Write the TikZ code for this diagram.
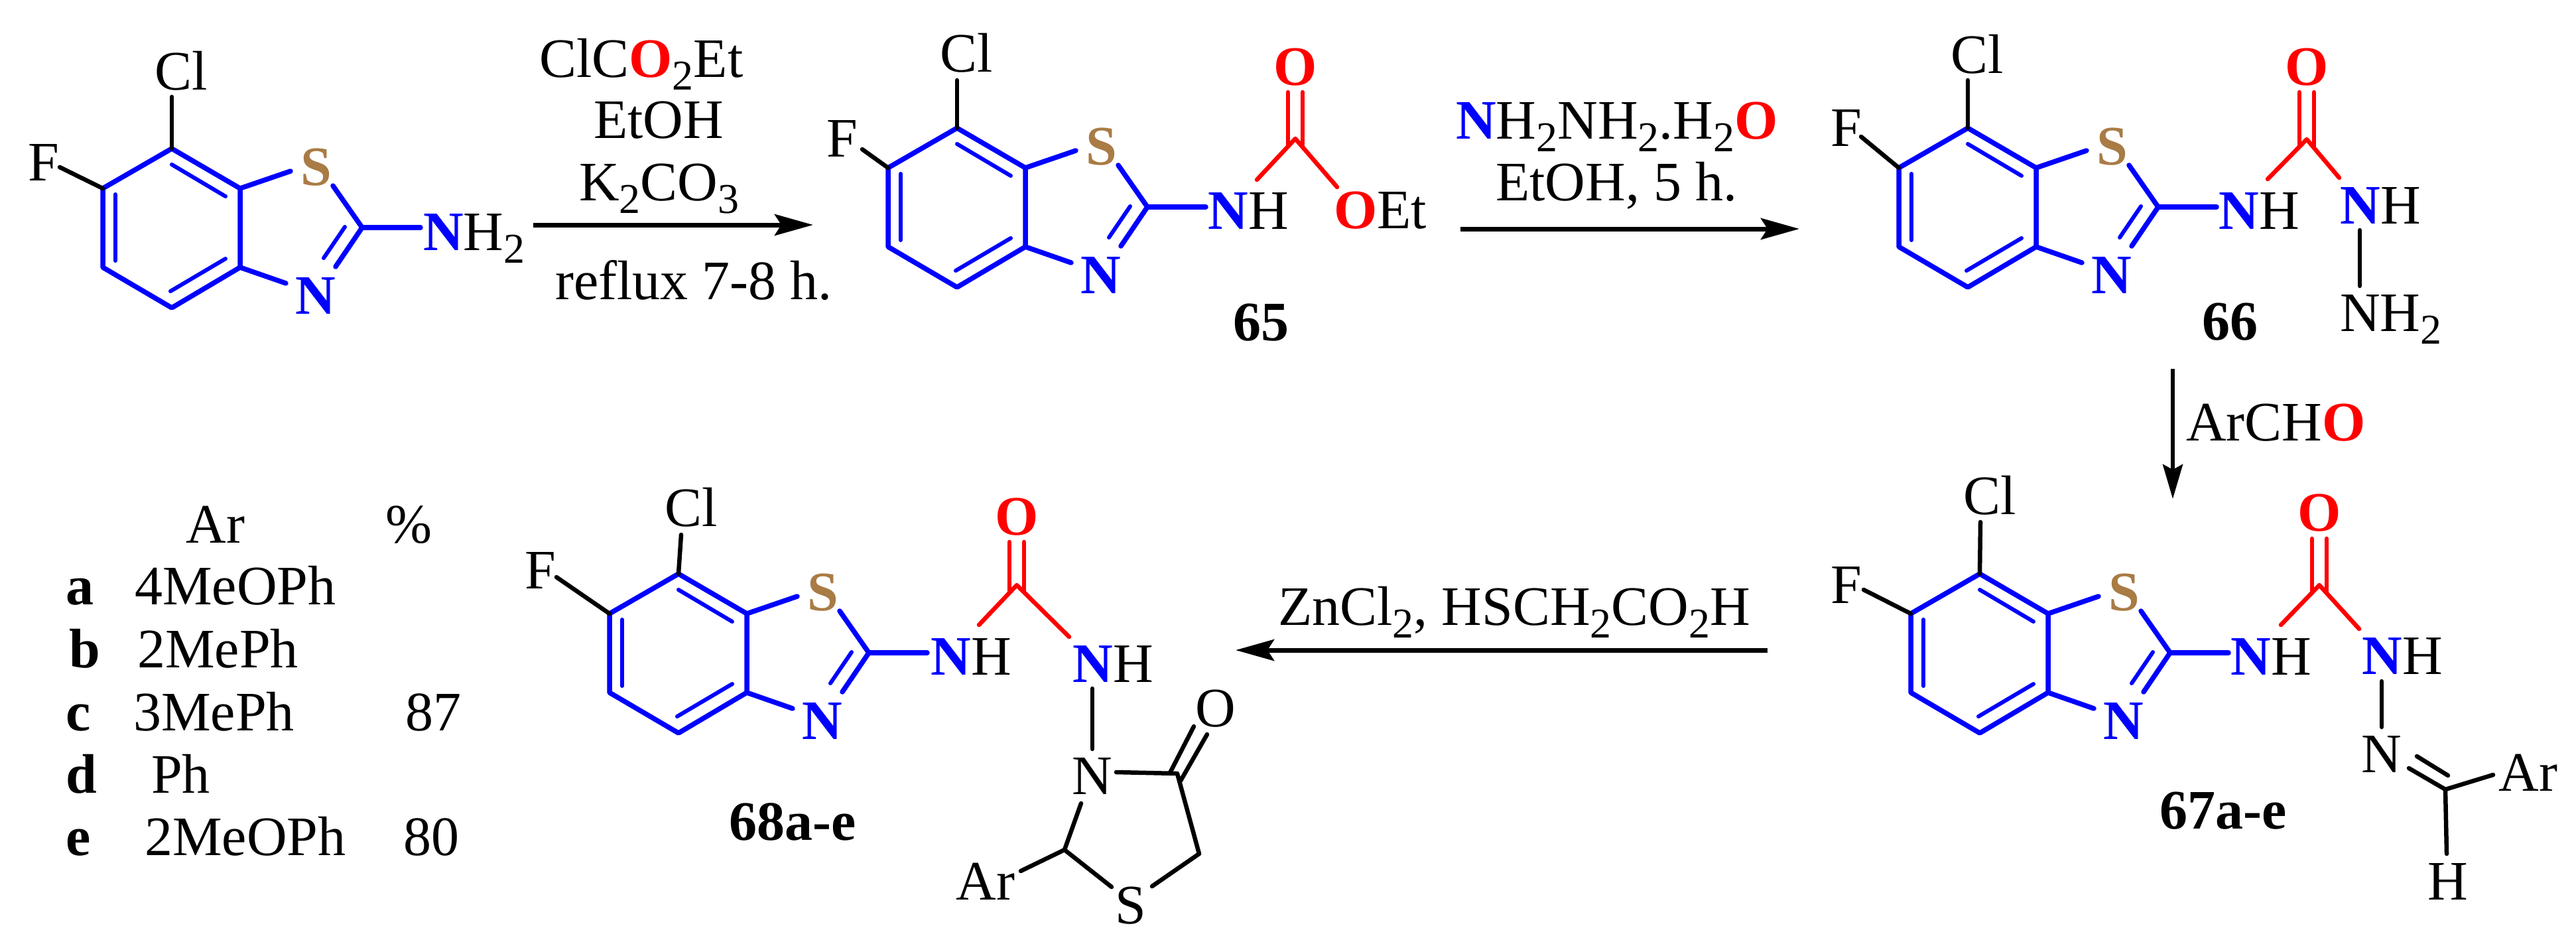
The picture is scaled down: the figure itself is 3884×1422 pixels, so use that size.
\documentclass[tikz,border=0pt]{standalone}
\usepackage{fontspec}
\setmainfont{Liberation Serif}
\usetikzlibrary{arrows.meta}
\definecolor{sbrown}{HTML}{A97B45}
\newcommand{\molfont}{\fontsize{84}{100}\selectfont}
\newcommand{\sbs}[1]{\raisebox{-19pt}{\fontsize{64}{70}\selectfont #1}}
\newcommand{\bN}{\textcolor{blue}{\textbf{N}}}
\newcommand{\rO}{\textcolor{red}{\textbf{O}}}
\tikzset{
  bnd/.style={line width=7.5pt,line cap=round,line join=round},
  thin bnd/.style={line width=6pt,line cap=round},
  ringb/.style={bnd,draw=blue},
  ringi/.style={thin bnd,draw=blue},
  redb/.style={line width=6.5pt,line cap=round,line join=round,draw=red},
  blkb/.style={line width=6.5pt,line cap=round,line join=round,draw=black},
  lab/.style={inner sep=0pt,text height=57pt,text depth=0pt,font=\molfont},
  txt/.style={inner sep=0pt,anchor=base west,font=\molfont},
  ctxt/.style={inner sep=0pt,anchor=base,font=\molfont},
  cmpd/.style={inner sep=0pt,anchor=base,font=\molfont\bfseries},
  rxn/.style={line width=7pt,-{Stealth[length=58pt,width=32pt,inset=10pt]}},
  rxnv/.style={line width=6pt,-{Stealth[length=52pt,width=30pt,inset=8pt]}}
}
% benzothiazole core, placed with its origin on the carbon carrying Cl
\newcommand{\bcore}[3]{%
\begin{scope}[shift={(#2,#3)},name prefix=#1-]
  \coordinate (a) at (0,0);
  \coordinate (cf) at (-104,60);
  \coordinate (bl) at (-104,179);
  \coordinate (b) at (0,240);
  \coordinate (br) at (103,179);
  \coordinate (ur) at (103,60);
  \coordinate (c2) at (287,119);
  \coordinate (se1) at (179,34);
  \coordinate (se2) at (243,56);
  \coordinate (ne1) at (172,203);
  \coordinate (ne2) at (247,178);
  \coordinate (nh) at (375,119);
  \coordinate (i1a) at (0,24);
  \coordinate (i1b) at (81,72);
  \coordinate (i2a) at (-85,69);
  \coordinate (i2b) at (-85,169);
  \coordinate (i3a) at (-2,215);
  \coordinate (i3b) at (81,166);
  \coordinate (i4a) at (261,118);
  \coordinate (i4b) at (229,165);
  \draw[ringb] (a)--(cf)--(bl)--(b)--(br)--(ur)--cycle;
  \draw[ringb] (ur)--(se1);
  \draw[ringb] (br)--(ne1);
  \draw[ringb] (se2)--(c2)--(ne2);
  \draw[ringb] (c2)--(nh);
  \draw[ringi] (i1a)--(i1b);
  \draw[ringi] (i2a)--(i2b);
  \draw[ringi] (i3a)--(i3b);
  \draw[ringi] (i4a)--(i4b);
  \node[lab,text=sbrown,font=\molfont\bfseries] (S) at (218,27) {S};
  \node[lab,text=blue,font=\molfont\bfseries] (N) at (217,221) {N};
\end{scope}}
% C=O group: name, peak x, peak y, top of double bond y, O centre y, left end, right end
\newcommand{\urea}[9]{%
  \coordinate (#1-p) at (#2,#3);
  \coordinate (#1-l) at (#6,#7);
  \coordinate (#1-r) at (#8,#9);
  \coordinate (#1-d1a) at ([xshift=-11pt]#2,#4);
  \coordinate (#1-d1b) at ([xshift=-11pt,yshift=-10pt]#2,#3);
  \coordinate (#1-d2a) at ([xshift=11pt]#2,#4);
  \coordinate (#1-d2b) at ([xshift=11pt,yshift=-10pt]#2,#3);
  \draw[redb] (#1-l)--(#1-p)--(#1-r);
  \draw[redb] (#1-d1a)--(#1-d1b);
  \draw[redb] (#1-d2a)--(#1-d2b);
  \node[lab,text=red,font=\molfont\bfseries] (#1-O) at (#2,#5) {O};}
\begin{document}
\begin{tikzpicture}[x=1pt,y=-1pt]
\useasboundingbox (0,0) rectangle (3884,1422);
\fill[white] (0,0) rectangle (3884,1422);

% ---------- compound 1
\bcore{m1}{259}{224}
\coordinate (m1-clt) at (259,146);
\coordinate (m1-fe) at (90,252);
\draw[blkb] (m1-a)--(m1-clt);
\draw[blkb] (m1-cf)--(m1-fe);
\node[lab] (m1-Cl) at (273,107) {Cl};
\node[lab] (m1-F) at (66,244) {F};
\node[lab,anchor=west] (m1-NH2) at (638,349) {\bN H\sbs{2}};

% ---------- compound 65
\bcore{m2}{1443}{193}
\coordinate (m2-clt) at (1443,121);
\coordinate (m2-fe) at (1300,225);
\draw[blkb] (m2-a)--(m2-clt);
\draw[blkb] (m2-cf)--(m2-fe);
\node[lab] (m2-Cl) at (1457,80) {Cl};
\node[lab] (m2-F) at (1270,208) {F};
\node[lab] (m2-NH) at (1882,317) {\bN H};
\urea{m2}{1953}{209}{139}{100}{1895}{271}{2016}{282}
\node[lab,anchor=west] (m2-OEt) at (2011,316) {\rO Et};
\node[cmpd] (c65) at (1901,513) {65};

% ---------- compound 66
\bcore{m3}{2967}{193}
\coordinate (m3-clt) at (2967,121);
\coordinate (m3-fe) at (2806,206);
\draw[blkb] (m3-a)--(m3-clt);
\draw[blkb] (m3-cf)--(m3-fe);
\node[lab] (m3-Cl) at (2981,82) {Cl};
\node[lab] (m3-F) at (2784,192) {F};
\node[lab] (m3-NH) at (3406,317) {\bN H};
\node[lab] (m3-NHb) at (3589,309) {\bN H};
\urea{m3}{3478}{210}{139}{100}{3419}{270}{3527}{268}
\coordinate (m3-nn1) at (3558,347);
\coordinate (m3-nn2) at (3558,431);
\draw[blkb] (m3-nn1)--(m3-nn2);
\node[lab,anchor=west] (m3-NH2) at (3528,471) {NH\sbs{2}};
\node[cmpd] (c66) at (3362,512) {66};

% ---------- compound 67a-e
\bcore{m4}{2985}{865}
\coordinate (m4-clt) at (2986,787);
\coordinate (m4-fe) at (2810,889);
\draw[blkb] (m4-a)--(m4-clt);
\draw[blkb] (m4-cf)--(m4-fe);
\node[lab] (m4-Cl) at (3000,747) {Cl};
\node[lab] (m4-F) at (2784,881) {F};
\node[lab] (m4-NH) at (3424,989) {\bN H};
\node[lab] (m4-NHb) at (3622,988) {\bN H};
\urea{m4}{3497}{882}{812}{772}{3439}{942}{3557}{948}
\coordinate (m4-nn1) at (3591,1027);
\coordinate (m4-nn2) at (3591,1096);
\draw[blkb] (m4-nn1)--(m4-nn2);
\node[lab] (m4-Nim) at (3591,1136) {N};
\coordinate (m4-ch) at (3687,1190);
\coordinate (m4-cn1) at (3632,1158);
\coordinate (m4-cn2a) at (3644,1140);
\coordinate (m4-cn2b) at (3691,1169);
\coordinate (m4-ar) at (3759,1168);
\coordinate (m4-he) at (3689,1287);
\draw[blkb] (m4-cn1)--(m4-ch)--(m4-ar);
\draw[blkb] (m4-ch)--(m4-he);
\draw[blkb] (m4-cn2a)--(m4-cn2b);
\node[lab] (m4-Ar) at (3812,1164) {Ar};
\node[lab] (m4-H) at (3691,1328) {H};
\node[cmpd] (c67) at (3352,1249) {67a-e};

% ---------- compound 68a-e
\bcore{m5}{1023}{865}
\coordinate (m5-clt) at (1027,806);
\coordinate (m5-fe) at (839,870);
\draw[blkb] (m5-a)--(m5-clt);
\draw[blkb] (m5-cf)--(m5-fe);
\node[lab] (m5-Cl) at (1042,765) {Cl};
\node[lab] (m5-F) at (815,859) {F};
\node[lab] (m5-NH) at (1464,989) {\bN H};
\node[lab] (m5-NHb) at (1678,1000) {\bN H};
\urea{m5}{1533}{882}{817}{778}{1476}{942}{1612}{960}
\coordinate (m5-nn1) at (1647,1038);
\coordinate (m5-nn2) at (1647,1129);
\draw[blkb] (m5-nn1)--(m5-nn2);
\node[lab] (m5-Nr) at (1647,1169) {N};
\node[lab] (m5-O2) at (1833,1067) {O};
\node[lab] (m5-Sr) at (1705,1364) {S};
\node[lab] (m5-Ar) at (1486,1328) {Ar};
\coordinate (m5-co) at (1775,1166);
\coordinate (m5-nc) at (1683,1164);
\coordinate (m5-dbl1a) at (1764,1165);
\coordinate (m5-dbl1b) at (1800,1095);
\coordinate (m5-dbl2a) at (1780,1177);
\coordinate (m5-dbl2b) at (1820,1107);
\coordinate (m5-ch2) at (1808,1287);
\coordinate (m5-cs) at (1737,1336);
\coordinate (m5-cc) at (1605,1281);
\coordinate (m5-nc2) at (1630,1211);
\coordinate (m5-cs2) at (1676,1337);
\coordinate (m5-are) at (1539,1313);
\draw[blkb] (m5-nc)--(m5-co)--(m5-ch2)--(m5-cs);
\draw[blkb] (m5-dbl1a)--(m5-dbl1b);
\draw[blkb] (m5-dbl2a)--(m5-dbl2b);
\draw[blkb] (m5-nc2)--(m5-cc)--(m5-cs2);
\draw[blkb] (m5-cc)--(m5-are);
\node[cmpd] (c68) at (1195,1266) {68a-e};

% ---------- reactions
\coordinate (r1s) at (804,339);
\coordinate (r1e) at (1226,339);
\draw[rxn] (r1s)--(r1e);
\node[txt] (r1a) at (813,116) {ClC\rO\sbs{2}Et};
\node[ctxt] (r1b) at (993,208) {EtOH};
\node[txt] (r1c) at (873,302) {K\sbs{2}CO\sbs{3}};
\node[txt] (r1d) at (837,451) {reflux 7-8 h.};

\coordinate (r2s) at (2202,345);
\coordinate (r2e) at (2713,345);
\draw[rxn] (r2s)--(r2e);
\node[txt] (r2a) at (2195,209) {\bN H\sbs{2}NH\sbs{2}.H\sbs{2}\rO};
\node[txt] (r2b) at (2255,302) {EtOH, 5 h.};

\coordinate (r3s) at (3276,556);
\coordinate (r3e) at (3276,752);
\draw[rxnv] (r3s)--(r3e);
\node[txt] (r3a) at (3296,664) {ArCH\rO};

\coordinate (r4s) at (2665,980);
\coordinate (r4e) at (1863,980);
\draw[rxn] (r4s)--(r4e);
\node[txt] (r4a) at (1927,942) {ZnCl\sbs{2}, HSCH\sbs{2}CO\sbs{2}H};

% ---------- table
\node[ctxt] (tAr) at (325,818) {Ar};
\node[ctxt] (tPc) at (616,818) {\%};
\node[txt,font=\molfont\bfseries] (ta) at (99,911) {a};
\node[txt] (taa) at (203,911) {4MeOPh};
\node[txt,font=\molfont\bfseries] (tb) at (104,1006) {b};
\node[txt] (tbb) at (207,1006) {2MePh};
\node[txt,font=\molfont\bfseries] (tc) at (99,1101) {c};
\node[txt] (tcc) at (201,1101) {3MePh};
\node[txt] (tc3) at (611,1101) {87};
\node[txt,font=\molfont\bfseries] (td) at (99,1195) {d};
\node[txt] (tdd) at (228,1195) {Ph};
\node[txt,font=\molfont\bfseries] (te) at (99,1289) {e};
\node[txt] (tee) at (218,1289) {2MeOPh};
\node[txt] (te3) at (608,1289) {80};
\end{tikzpicture}
\end{document}
